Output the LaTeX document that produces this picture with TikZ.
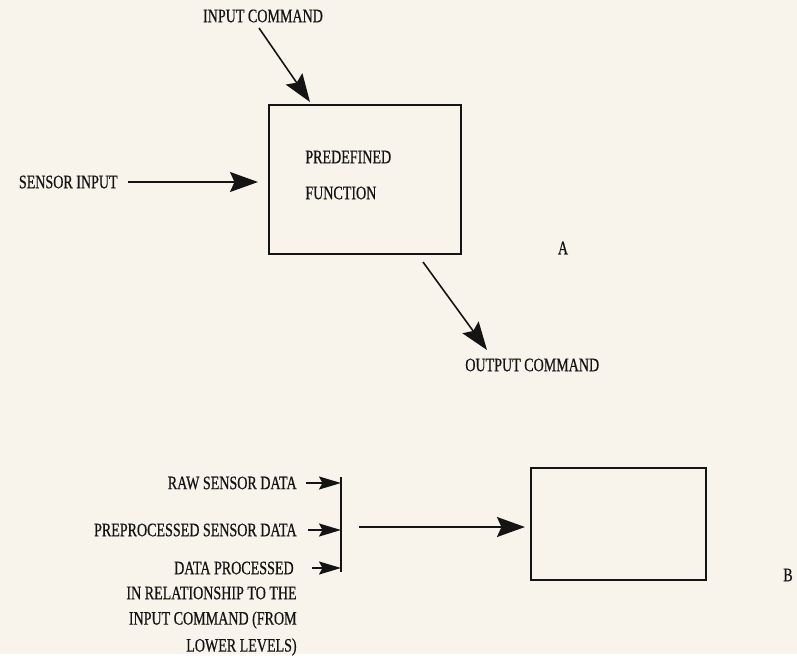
\documentclass[tikz,border=0pt]{standalone}
\usepackage{fontspec}
\setmainfont{Liberation Serif}[FakeStretch=0.74, FakeBold=0.6]
\usetikzlibrary{arrows.meta}

\definecolor{paper}{RGB}{248,244,236}
\definecolor{ink}{RGB}{20,20,20}

\begin{document}
\begin{tikzpicture}[
    % GLOBAL CFG (one unit = one pixel of the page)
    x=0.2mm, y=-0.2mm,
    font=\fontsize{10.8}{12}\selectfont,
    >={Stealth[length=5.6mm, width=4mm, inset=0.9mm]},
    % Styles
    block/.style={% For the function boxes
        rectangle,
        draw=ink,
        line width=1.2pt,
        inner sep=0pt,
        },
    txt/.style={% For all the capital labels
        inner sep=0pt,
        text=ink,
        },
    ArrowA/.style={% Big arrows
        ->,
        draw=ink,
        line width=0.9pt,
        },
    ArrowB/.style={% Small arrows into the bar
        -{Stealth[length=4.4mm, width=2.6mm, inset=0.7mm]},
        draw=ink,
        line width=0.9pt,
        },
    ]

    % Paper
    \fill[paper] (0,0) rectangle (797,654);

    % Draw the upper box (A)
    \node [block, minimum width=38.4mm, minimum height=29.8mm] (boxA) at (365,179.5) {};
    \node [txt, anchor=west] (predef) at (305,157) {PREDEFINED};
    \node [txt, anchor=west] (func) at (305,193) {FUNCTION};
    \node [txt] (labA) at (563,248) {A};

    % Inputs and output of A
    \node [txt] (incmd) at (263,16) {INPUT COMMAND};
    \node [txt, anchor=east] (sensor) at (118,182) {SENSOR INPUT};
    \node [txt, anchor=west] (outcmd) at (465,365) {OUTPUT COMMAND};

    \coordinate (incmd_tail) at (259,28);
    \coordinate (incmd_tip) at (310,102);
    \coordinate (sensor_tail) at (128,182);
    \coordinate (sensor_tip) at (258,182);
    \coordinate (out_tail) at (423,262);
    \coordinate (out_tip) at (487,350);

    \draw [ArrowA] (incmd_tail) -- (incmd_tip);
    \draw [ArrowA] (sensor_tail) -- (sensor_tip);
    \draw [ArrowA] (out_tail) -- (out_tip);

    % Draw the lower box (B)
    \node [block, minimum width=35mm, minimum height=22.4mm] (boxB) at (618.5,524) {};
    \node [txt] (labB) at (788,575) {B};

    % Data sources, right aligned
    \node [txt, anchor=east] (raw) at (297,483) {RAW SENSOR DATA};
    \node [txt, anchor=east] (pre) at (297,530) {PREPROCESSED SENSOR DATA};
    \node [txt, anchor=east] (dproc) at (294,568) {DATA PROCESSED};
    \node [txt, anchor=east] (rel1) at (297,593) {IN RELATIONSHIP TO THE};
    \node [txt, anchor=east] (rel2) at (297,620) {INPUT COMMAND (FROM};
    \node [txt, anchor=east] (rel3) at (297,647) {LOWER LEVELS)};

    % The collecting bar
    \coordinate (bar_top) at (341,477);
    \coordinate (bar_bot) at (341,572);
    \draw [ink, line width=1.2pt] (bar_top) -- (bar_bot);

    \draw [ArrowB] (306,483) -- (raw -| bar_top);
    \draw [ArrowB] (308,530) -- (pre -| bar_top);
    \draw [ArrowB] (312,568) -- (dproc -| bar_top);

    % bar to B
    \coordinate (bus_tail) at (359,527);
    \draw [ArrowA] (bus_tail) -- ([xshift=-1mm]boxB.west |- bus_tail);

\end{tikzpicture}
\end{document}
